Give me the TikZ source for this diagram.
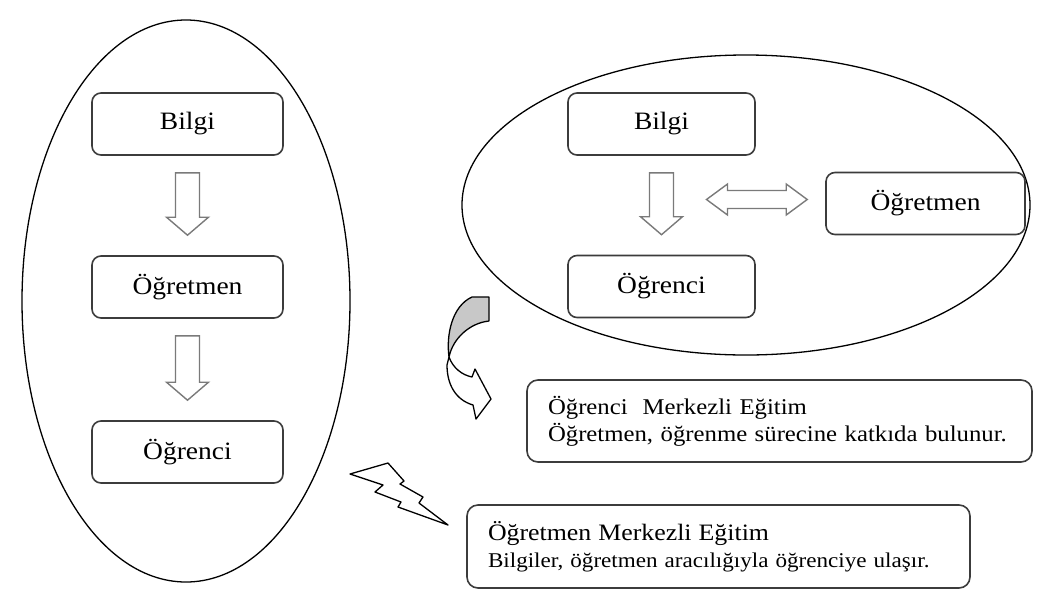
\documentclass[tikz,border=0pt]{standalone}
\usepackage{fontspec}
\setmainfont[FakeStretch=1.1]{Liberation Serif}
\usetikzlibrary{shapes.geometric,calc}
\definecolor{boxline}{HTML}{3c3c3c}
\definecolor{arrowline}{HTML}{7a7a7a}
\definecolor{curlgray}{HTML}{c8c8c8}

% hollow block arrow from the bottom of one box to the top of the next
\newcommand{\hollowdown}[2]{%
  \draw[hollow] let \p1=($(#1.south)+(0pt,-17pt)$), \p2=($(#2.north)+(0pt,20pt)$) in
    (\x1-12pt,\y1) -- (\x1+12pt,\y1) -- (\x1+12pt,\y2+18pt) -- (\x1+21pt,\y2+18pt)
    -- (\x1,\y2) -- (\x1-21pt,\y2+18pt) -- (\x1-12pt,\y2+18pt) -- cycle;}

\begin{document}
\begin{tikzpicture}[x=1pt,y=-1pt,
  oval/.style={draw=black, line width=1.3pt, ellipse},
  card/.style={draw=boxline, line width=1.6pt, rounded corners=9pt, fill=white, minimum height=62pt, font=\fontsize{25}{30}\selectfont},
  note/.style={draw=boxline, line width=1.6pt, rounded corners=11pt, fill=white, align=left, inner xsep=21pt, text width=463pt, minimum height=82pt, font=\fontsize{22.5}{27}\selectfont},
  hollow/.style={draw=arrowline, line width=1.4pt, fill=white, line join=miter},
  bolt/.style={draw=black, line width=1.3pt, fill=white, line join=round},
]
\useasboundingbox (0,0) rectangle (1048,592);

\node[oval, minimum width=328pt, minimum height=562pt] (left) at (186,301) {};
\node[oval, minimum width=568pt, minimum height=300pt] (right) at (746,205) {};

\node[card, minimum width=191pt] (lb) at (187.5,124) {Bilgi};
\node[card, minimum width=191pt] (lt) at (187.5,287) {Öğretmen};
\node[card, minimum width=191pt] (lo) at (187.5,452) {Öğrenci};

\node[card, minimum width=187pt] (rb) at (661.5,124) {Bilgi};
\node[card, minimum width=187pt] (ro) at (661.5,286.5) {Öğrenci};
\node[card, minimum width=199pt] (rt) at (925.5,203.5) {Öğretmen};
\coordinate (flow) at ($(rb.south)!0.5!(ro.north)$);

\node[note] (sc) at (779.5,421) {Öğrenci\ \ Merkezli Eğitim\\Öğretmen, öğrenme sürecine katkıda bulunur.};
\node[note, text width=461pt, minimum height=83pt, font=\fontsize{21}{27}\selectfont] (tc) at (718.5,546.5) {{\fontsize{23.5}{27}\selectfont Öğretmen Merkezli Eğitim}\\Bilgiler, öğretmen aracılığıyla öğrenciye ulaşır.};

\hollowdown{lb}{lt}
\hollowdown{lt}{lo}
\hollowdown{rb}{ro}

\draw[hollow] let \p2=($(rt.west)+(-18pt,4pt)$), \p1=($(flow)+(45pt,0pt)$) in
  (\x1,\y2) -- (\x1+21pt,\y2+15.5pt) -- (\x1+21pt,\y2+9pt) -- (\x2-21pt,\y2+9pt)
  -- (\x2-21pt,\y2+15.5pt) -- (\x2,\y2) -- (\x2-21pt,\y2-15.5pt) -- (\x2-21pt,\y2-9pt)
  -- (\x1+21pt,\y2-9pt) -- (\x1+21pt,\y2-15.5pt) -- cycle;

% curved arrow
\draw[bolt] (449,357) .. controls (453,368) and (462,375) .. (472,377) -- (475,369) -- (491,399)
  -- (476,419) -- (473,405) .. controls (456,400) and (447,385) .. (447,365) -- cycle;
\draw[bolt, fill=curlgray] (472,297) -- (489,297) -- (489,321) .. controls (470,323) and (453,338) .. (449,357)
  .. controls (446,335) and (452,306) .. (472,297) -- cycle;

% lightning
\draw[bolt] (350,474) -- (388,463) -- (404,481) -- (400,484) -- (423,497) -- (419,503) -- (448,525)
  -- (398,507) -- (401,502) -- (375,492) -- (383,485) -- cycle;
\end{tikzpicture}
\end{document}
